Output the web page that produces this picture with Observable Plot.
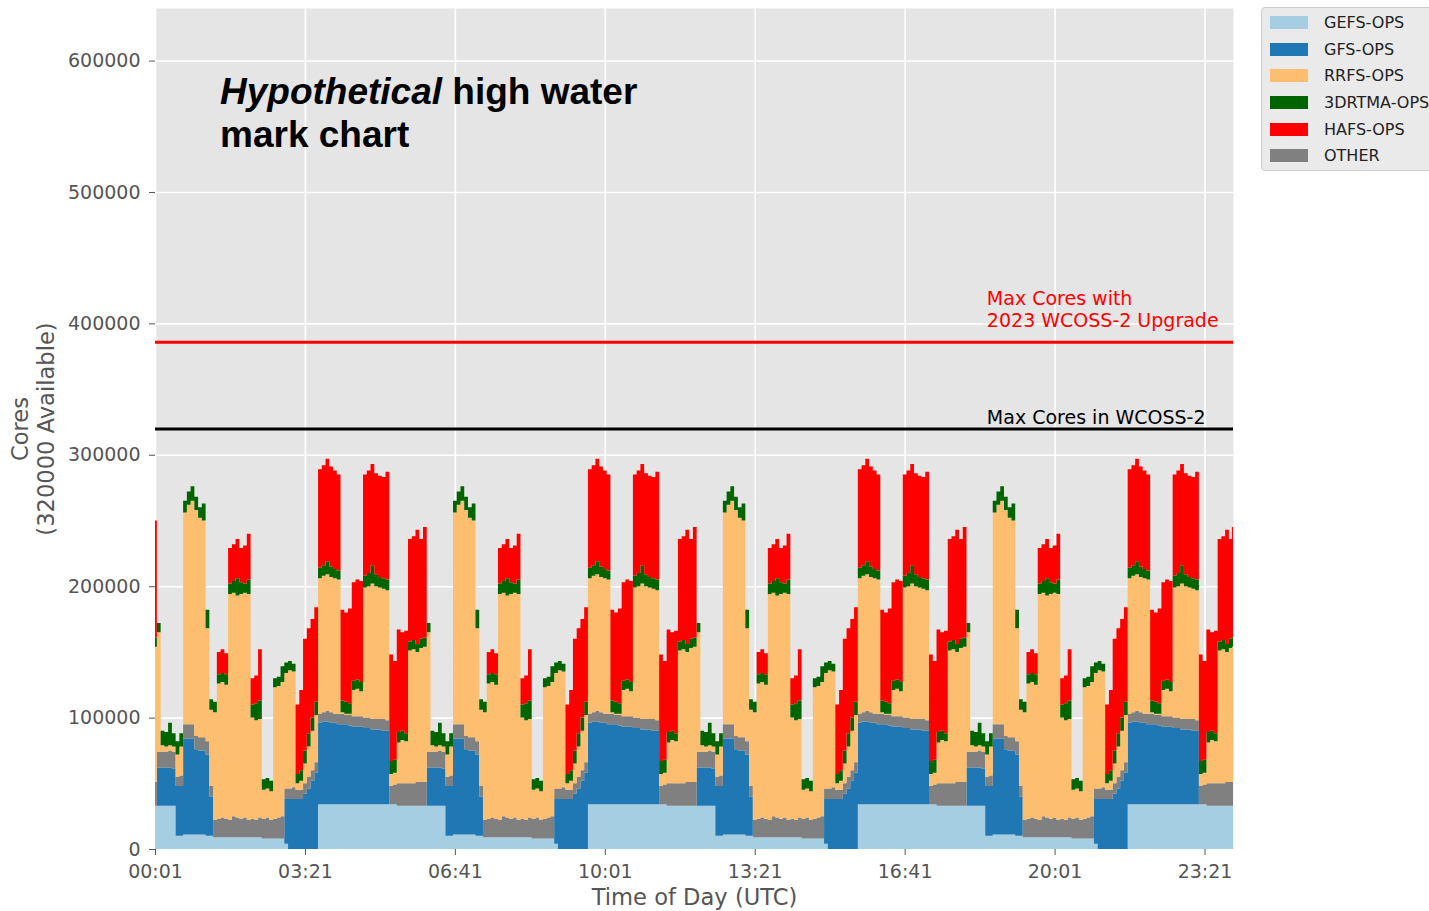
<!DOCTYPE html>
<html>
<head>
<meta charset="utf-8">
<script src="https://cdn.jsdelivr.net/npm/d3@7"></script>
<script src="https://cdn.jsdelivr.net/npm/@observablehq/plot@0.6"></script>
<style>
  html, body { margin: 0; padding: 0; background: #ffffff; }
  #wrap { position: relative; width: 1429px; height: 911px; overflow: hidden; font-family: "DejaVu Sans", sans-serif; }
  #wrap svg { position: absolute; left: 0; top: 0; }
  #note { position: absolute; left: 220px; top: 70px; font-family: "Liberation Sans", Arial, sans-serif; font-weight: bold; font-size: 37px; line-height: 43px; color: #000; white-space: nowrap; }
  #legend { position: absolute; left: 1261px; top: 7px; width: 200px; height: 164px; background: #EAEAEA; border: 1px solid #CCCCCC; border-radius: 4px; box-sizing: border-box; }
  .item { position: absolute; left: 0; height: 14px; }
  .swatch { position: absolute; left: 8px; top: 0; width: 38px; height: 13px; }
  .lab { position: absolute; left: 62px; top: -3px; font-size: 16px; line-height: 20px; color: #222; white-space: nowrap; }
</style>
</head>
<body>
<div id="wrap"></div>
<script>
// Cores in use (thousands), sampled every 5 minutes from 00:01 UTC, by job family.
const gefs = [
  33,33,33,33,33,33,10,10,11,11,11,11,11,11,10,10,9,9,9,9,9,9,9,9,9,9,9,9,9,8,8,8,8,8,8,4,0,0,0,0,0,0,0,0,
  34,34,34,34,34,34,34,34,34,34,34,34,34,34,34,34,34,34,34,34,34,33,33,33,33,33,33,33,33,33,33,33,33,33,10,10,11,11,11,11,11,11,10,10,9,9,9,9,9,9,9,9,9,9,9,9,9,8,8,8,8,8,8,4,0,0,0,0,0,0,0,0,
  34,34,34,34,34,34,34,34,34,34,34,34,34,34,34,34,34,34,34,34,34,33,33,33,33,33,33,33,33,33,33,33,33,33,10,10,11,11,11,11,11,11,10,10,9,9,9,9,9,9,9,9,9,9,9,9,9,8,8,8,8,8,8,4,0,0,0,0,0,0,0,0,
  34,34,34,34,34,34,34,34,34,34,34,34,34,34,34,34,34,34,34,34,34,33,33,33,33,33,33,33,33,33,33,33,33,33,10,10,11,11,11,11,11,11,10,10,9,9,9,9,9,9,9,9,9,9,9,9,9,8,8,8,8,8,8,4,0,0,0,0,0,0,0,0,
  34,34,34,34,34,34,34,34,34,34,34,34,34,34,34,34,34,34,34,34,34,33,33,33,33,33,33,33,33
];
const gfs = [
  0,29,29,29,29,28,38,38,73,73,73,65,64,64,62,30,0,0,0,0,0,0,0,0,0,0,0,0,0,0,0,0,0,0,0,34,38,38,38,38,42,46,52,58,
  62,63,63,62,62,61,61,61,60,59,59,59,58,58,57,57,57,56,56,0,0,0,0,0,0,0,0,0,0,29,29,29,29,28,38,38,73,73,73,65,64,64,62,30,0,0,0,0,0,0,0,0,0,0,0,0,0,0,0,0,0,0,0,34,38,38,38,38,42,46,52,58,
  62,63,63,62,62,61,61,61,60,59,59,59,58,58,57,57,57,56,56,0,0,0,0,0,0,0,0,0,0,29,29,29,29,28,38,38,73,73,73,65,64,64,62,30,0,0,0,0,0,0,0,0,0,0,0,0,0,0,0,0,0,0,0,34,38,38,38,38,42,46,52,58,
  62,63,63,62,62,61,61,61,60,59,59,59,58,58,57,57,57,56,56,0,0,0,0,0,0,0,0,0,0,29,29,29,29,28,38,38,73,73,73,65,64,64,62,30,0,0,0,0,0,0,0,0,0,0,0,0,0,0,0,0,0,0,0,34,38,38,38,38,42,46,52,58,
  62,63,63,62,62,61,61,61,60,59,59,59,58,58,57,57,57,56,56,0,0,0,0,0,0,0,0,0,0
];
const other = [
  18,12,12,12,13,13,7,8,11,11,11,10,10,10,10,8,13,14,15,14,13,16,15,14,15,13,14,13,15,15,16,14,15,16,17,8,8,9,7,7,8,9,8,8,
  7,7,8,8,7,8,8,7,8,8,8,8,8,8,8,8,8,9,8,14,15,17,17,17,17,17,18,18,18,12,12,12,13,13,7,8,11,11,11,10,10,10,10,8,13,14,15,14,13,16,15,14,15,13,14,13,15,15,16,14,15,16,17,8,8,9,7,7,8,9,8,8,
  7,7,8,8,7,8,8,7,8,8,8,8,8,8,8,8,8,9,8,14,15,17,17,17,17,17,18,18,18,12,12,12,13,13,7,8,11,11,11,10,10,10,10,8,13,14,15,14,13,16,15,14,15,13,14,13,15,15,16,14,15,16,17,8,8,9,7,7,8,9,8,8,
  7,7,8,8,7,8,8,7,8,8,8,8,8,8,8,8,8,9,8,14,15,17,17,17,17,17,18,18,18,12,12,12,13,13,7,8,11,11,11,10,10,10,10,8,13,14,15,14,13,16,15,14,15,13,14,13,15,15,16,14,15,16,17,8,8,9,7,7,8,9,8,8,
  7,7,8,8,7,8,8,7,8,8,8,8,8,8,8,8,8,9,8,14,15,17,17,17,17,17,18,18,18
];
const rrfs = [
  103,91,5,4,4,4,17,22,161,167,170,172,167,165,86,58,82,103,103,102,172,170,169,171,171,172,77,76,75,22,22,22,100,100,102,88,90,88,5,7,15,23,30,36,
  103,104,104,103,103,102,1,1,1,20,21,19,99,100,103,101,100,99,99,9,9,31,33,32,101,102,99,102,103,91,5,4,4,4,17,22,161,167,170,172,167,165,86,58,82,103,103,102,172,170,169,171,171,172,77,76,75,22,22,22,100,100,102,88,90,88,5,7,15,23,30,36,
  103,104,104,103,103,102,1,1,1,20,21,19,99,100,103,101,100,99,99,9,9,31,33,32,101,102,99,102,103,91,5,4,4,4,17,22,161,167,170,172,167,165,86,58,82,103,103,102,172,170,169,171,171,172,77,76,75,22,22,22,100,100,102,88,90,88,5,7,15,23,30,36,
  103,104,104,103,103,102,1,1,1,20,21,19,99,100,103,101,100,99,99,9,9,31,33,32,101,102,99,102,103,91,5,4,4,4,17,22,161,167,170,172,167,165,86,58,82,103,103,102,172,170,169,171,171,172,77,76,75,22,22,22,100,100,102,88,90,88,5,7,15,23,30,36,
  103,104,104,103,103,102,1,1,1,20,21,19,99,100,103,101,100,99,99,9,9,31,33,32,101,102,99,102,103
];
const rtma = [
  7,7,11,11,17,10,10,10,9,10,11,10,8,13,14,8,8,7,7,8,8,9,13,9,7,11,10,13,14,8,8,8,7,7,12,8,7,6,7,8,10,10,10,10,
  8,8,10,8,7,7,9,9,8,7,7,7,9,10,14,9,8,8,8,10,10,8,7,6,7,7,6,7,7,7,11,11,17,10,10,10,9,10,11,10,8,13,14,8,8,7,7,8,8,9,13,9,7,11,10,13,14,8,8,8,7,7,12,8,7,6,7,8,10,10,10,10,
  8,8,10,8,7,7,9,9,8,7,7,7,9,10,14,9,8,8,8,10,10,8,7,6,7,7,6,7,7,7,11,11,17,10,10,10,9,10,11,10,8,13,14,8,8,7,7,8,8,9,13,9,7,11,10,13,14,8,8,8,7,7,12,8,7,6,7,8,10,10,10,10,
  8,8,10,8,7,7,9,9,8,7,7,7,9,10,14,9,8,8,8,10,10,8,7,6,7,7,6,7,7,7,11,11,17,10,10,10,9,10,11,10,8,13,14,8,8,7,7,8,8,9,13,9,7,11,10,13,14,8,8,8,7,7,12,8,7,6,7,8,10,10,10,10,
  8,8,10,8,7,7,9,9,8,7,7,7,9,10,14,9,8,8,8,10,10,8,7,6,7,7,6,7,7
];
const hafs = [
  89,0,0,0,0,0,0,0,0,0,0,0,0,0,0,0,0,17,18,16,27,28,30,26,29,35,20,21,39,0,0,0,0,0,0,0,0,0,53,61,85,80,75,72,
  75,76,78,76,75,73,69,68,72,75,76,77,77,78,77,77,77,77,82,81,75,78,75,78,78,79,87,76,84,0,0,0,0,0,0,0,0,0,0,0,0,0,0,0,0,17,18,16,27,28,30,26,29,35,20,21,39,0,0,0,0,0,0,0,0,0,53,61,85,80,75,72,
  75,76,78,76,75,73,69,68,72,75,76,77,77,78,77,77,77,77,82,81,75,78,75,78,78,79,87,76,84,0,0,0,0,0,0,0,0,0,0,0,0,0,0,0,0,17,18,16,27,28,30,26,29,35,20,21,39,0,0,0,0,0,0,0,0,0,53,61,85,80,75,72,
  75,76,78,76,75,73,69,68,72,75,76,77,77,78,77,77,77,77,82,81,75,78,75,78,78,79,87,76,84,0,0,0,0,0,0,0,0,0,0,0,0,0,0,0,0,17,18,16,27,28,30,26,29,35,20,21,39,0,0,0,0,0,0,0,0,0,53,61,85,80,75,72,
  75,76,78,76,75,73,69,68,72,75,76,77,77,78,77,77,77,77,82,81,75,78,75,78,78,79,87,76,84
];

// Legend order and colours
const legendNames = ["GEFS-OPS", "GFS-OPS", "RRFS-OPS", "3DRTMA-OPS", "HAFS-OPS", "OTHER"];
const legendColors = ["#A6CEE3", "#1F78B4", "#FDBF6F", "#006400", "#FF0000", "#808080"];
// Stacking order, bottom to top
const stackNames = ["GEFS-OPS", "GFS-OPS", "OTHER", "RRFS-OPS", "3DRTMA-OPS", "HAFS-OPS"];
const seriesValues = {"GEFS-OPS": gefs, "GFS-OPS": gfs, "OTHER": other, "RRFS-OPS": rrfs, "3DRTMA-OPS": rtma, "HAFS-OPS": hafs};

// Capacity lines
const maxCores = 320000;
const maxCoresUpgrade = 386000;

// Axis ticks
const xTicks = [1, 201, 401, 601, 801, 1001, 1201, 1401];
const xTickLabels = ["00:01", "03:21", "06:41", "10:01", "13:21", "16:41", "20:01", "23:21"];
const yTicks = [0, 100000, 200000, 300000, 400000, 500000, 600000];

const nSamples = gefs.length;
for (const name of stackNames) {
  if (seriesValues[name].length !== nSamples) throw new Error(name + " length " + seriesValues[name].length + " vs " + nSamples);
}
const minutes = d3.range(nSamples).map(i => Math.min(1 + 5 * i, 1439));

const rows = [];
for (const name of stackNames) {
  seriesValues[name].forEach((v, i) => rows.push({minute: minutes[i], series: name, cores: v * 1000}));
}

const colorOf = new Map(legendNames.map((n, i) => [n, legendColors[i]]));
const xLabel = new Map(xTicks.map((t, i) => [t, xTickLabels[i]]));

const chart = Plot.plot({
  width: 1429,
  height: 911,
  marginLeft: 155,
  marginRight: 196,
  marginTop: 8,
  marginBottom: 62,
  style: {background: "transparent", fontFamily: "DejaVu Sans, sans-serif", fontSize: "19px", color: "#555555", overflow: "visible"},
  x: {domain: [1, 1439]},
  y: {domain: [0, 640000]},
  color: {domain: stackNames, range: stackNames.map(n => colorOf.get(n))},
  marks: [
    Plot.frame({fill: "#E5E5E5", stroke: null}),
    Plot.gridX(xTicks, {stroke: "#ffffff", strokeOpacity: 1, strokeWidth: 1.6}),
    Plot.gridY(yTicks, {stroke: "#ffffff", strokeOpacity: 1, strokeWidth: 1.6}),
    Plot.areaY(rows, Plot.stackY({
      x: "minute", y: "cores", z: "series", fill: "series",
      order: stackNames, curve: "step"
    })),
    Plot.ruleY([maxCoresUpgrade], {stroke: "#FF0000", strokeWidth: 3}),
    Plot.ruleY([maxCores], {stroke: "#000000", strokeWidth: 3}),
    Plot.text(["Max Cores with\n2023 WCOSS-2 Upgrade"], {
      x: 1110, y: maxCoresUpgrade, text: d => d, textAnchor: "start", lineAnchor: "bottom",
      lineHeight: 1.16, dy: -15, fill: "#FF0000", fontSize: 19
    }),
    Plot.text(["Max Cores in WCOSS-2"], {
      x: 1110, y: maxCores, text: d => d, textAnchor: "start", lineAnchor: "bottom",
      dy: -5, fill: "#000000", fontSize: 19
    }),
    Plot.axisX(xTicks, {tickFormat: d => xLabel.get(d), tickSize: 6, tickPadding: 9, fontSize: 19, label: null}),
    Plot.axisY(yTicks, {tickFormat: d => String(d), tickSize: 6, tickPadding: 9, fontSize: 19, label: null}),
    Plot.text(["Time of Day (UTC)"], {frameAnchor: "bottom", text: d => d, dy: 55, lineAnchor: "bottom", fontSize: 22.6, fill: "#555555"}),
    Plot.text(["Cores\n(320000 Available)"], {frameAnchor: "left", text: d => d, dx: -123, rotate: -90, textAnchor: "middle", lineAnchor: "middle", lineHeight: 1.15, fontSize: 22.6, fill: "#555555"})
  ]
});

const wrap = document.getElementById("wrap");
wrap.appendChild(chart);

const note = document.createElement("div");
note.id = "note";
note.innerHTML = "<i>Hypothetical</i> high water<br>mark chart";
wrap.appendChild(note);

const legend = document.createElement("div");
legend.id = "legend";
legendNames.forEach((name, i) => {
  const item = document.createElement("div");
  item.className = "item";
  item.style.top = (8 + i * 26.67) + "px";
  const sw = document.createElement("div");
  sw.className = "swatch";
  sw.style.background = legendColors[i];
  const lab = document.createElement("div");
  lab.className = "lab";
  lab.textContent = name;
  item.appendChild(sw);
  item.appendChild(lab);
  legend.appendChild(item);
});
wrap.appendChild(legend);
</script>
</body>
</html>
